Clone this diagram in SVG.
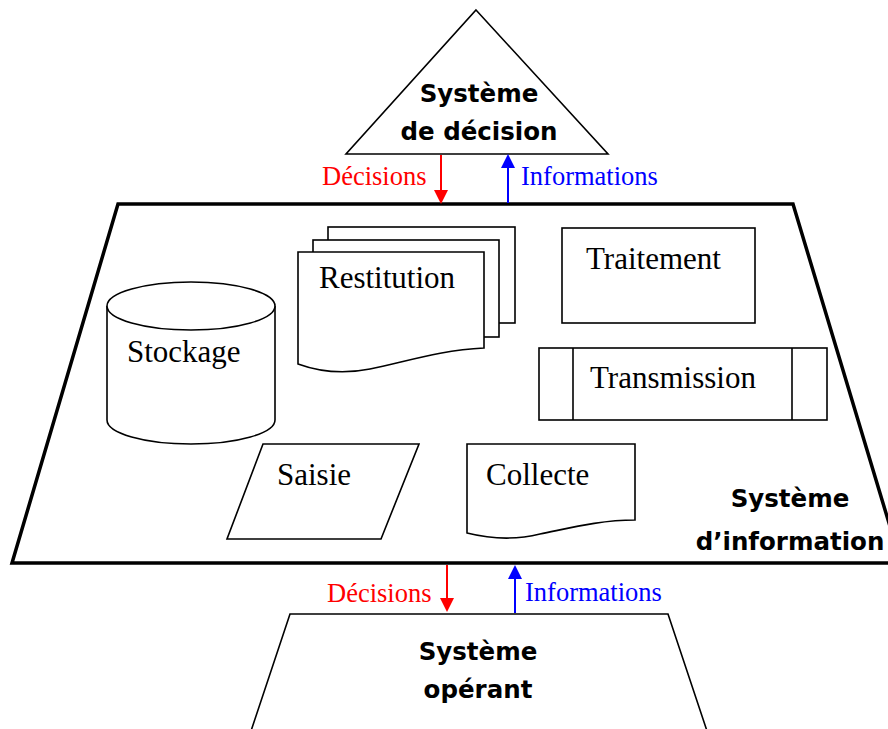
<svg xmlns="http://www.w3.org/2000/svg" width="888" height="729" viewBox="0 0 888 729">
  <style>
    .sys { fill: #fff; stroke: #000; stroke-width: 1.6; stroke-linejoin: miter; }
    .si { fill: #fff; stroke: #000; stroke-width: 3.5; stroke-linejoin: miter; }
    .node { fill: #fff; stroke: #000; stroke-width: 1.6; }
    .title { font-family: "DejaVu Sans", sans-serif; font-weight: bold; font-size: 24.5px; fill: #000; text-anchor: middle; }
    .lbl { font-family: "Liberation Serif", serif; font-size: 31px; fill: #000; }
    .flow { font-family: "Liberation Serif", serif; font-size: 26.5px; }
    .red { fill: #ff0000; stroke: #ff0000; }
    .blue { fill: #0000ff; stroke: #0000ff; }
  </style>

  <!-- decision system (triangle) -->
  <g id="decision">
    <polygon class="sys" points="476,10 608,154 346,154"/>
    <text class="title" x="479" y="102">Système</text>
    <text class="title" x="479" y="140">de décision</text>
  </g>

  <!-- information system (trapezoid) -->
  <g id="information">
    <polygon class="si" points="118,204 793,204 901,563 12,563"/>
    <text class="title" x="790" y="507">Système</text>
    <text class="title" x="790" y="550">d’information</text>
  </g>

  <!-- operating system (open trapezoid) -->
  <g id="operant">
    <polygon class="sys" points="290,614 668,614 710,740 248,740"/>
    <text class="title" x="478" y="660">Système</text>
    <text class="title" x="478" y="698">opérant</text>
  </g>

  <g id="stockage">
    <path class="node" d="M107,306 V420 A84,24 0 0 0 275,420 V306"/>
    <ellipse class="node" cx="191" cy="306" rx="84" ry="24"/>
    <text class="lbl" x="127" y="362">Stockage</text>
  </g>

  <g id="restitution">
    <rect class="node" x="328" y="227" width="187" height="96"/>
    <rect class="node" x="313" y="240" width="186" height="97"/>
    <path class="node" d="M298,252 H484 V348 C440,350 405,362 370,369 C345,374 320,372 298,364 Z"/>
    <text class="lbl" x="319" y="288">Restitution</text>
  </g>

  <g id="traitement">
    <rect class="node" x="562" y="228" width="193" height="95"/>
    <text class="lbl" x="586" y="269">Traitement</text>
  </g>

  <g id="transmission">
    <rect class="node" x="539" y="348" width="288" height="72"/>
    <line class="node" x1="573" y1="348" x2="573" y2="420"/>
    <line class="node" x1="792" y1="348" x2="792" y2="420"/>
    <text class="lbl" x="590" y="388">Transmission</text>
  </g>

  <g id="saisie">
    <polygon class="node" points="263,444 419,444 381,539 227,539"/>
    <text class="lbl" x="277" y="485">Saisie</text>
  </g>

  <g id="collecte">
    <path class="node" d="M467,444 H635 V520 C600,520 570,528 540,534 C520,539 495,540 467,533 Z"/>
    <text class="lbl" x="486" y="485">Collecte</text>
  </g>

  <!-- flows between the three systems -->
  <g id="connectors">
    <line class="red" x1="441" y1="155" x2="441" y2="192" stroke-width="2"/>
    <polygon class="red" stroke-width="0" points="434,190 448,190 441,204"/>
    <line class="blue" x1="508" y1="203" x2="508" y2="166" stroke-width="2"/>
    <polygon class="blue" stroke-width="0" points="501,168 515,168 508,154"/>

    <line class="red" x1="447" y1="565" x2="447" y2="600" stroke-width="2"/>
    <polygon class="red" stroke-width="0" points="440,598 454,598 447,612"/>
    <line class="blue" x1="515" y1="613" x2="515" y2="577" stroke-width="2"/>
    <polygon class="blue" stroke-width="0" points="508,579 522,579 515,565"/>

    <text class="flow" fill="#ff0000" x="322" y="185">Décisions</text>
    <text class="flow" fill="#0000ff" x="521" y="185">Informations</text>
    <text class="flow" fill="#ff0000" x="327" y="602">Décisions</text>
    <text class="flow" fill="#0000ff" x="525" y="601">Informations</text>
  </g>
</svg>
